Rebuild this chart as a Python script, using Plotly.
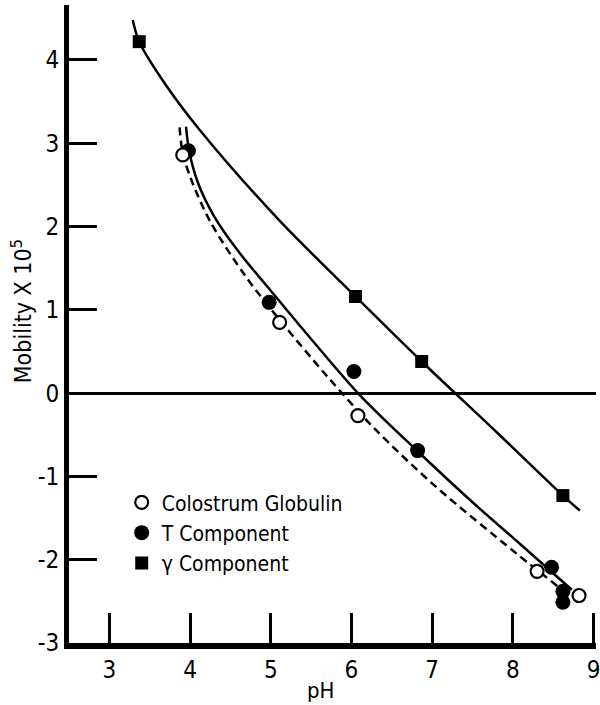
import plotly.graph_objects as go

# ---- data ----
ph_colostrum = [3.91, 5.11, 6.08, 8.30, 8.82]
mob_colostrum = [2.86, 0.85, -0.27, -2.14, -2.43]

ph_t = [3.98, 4.98, 6.03, 6.82, 8.48, 8.62, 8.62]
mob_t = [2.91, 1.09, 0.26, -0.69, -2.09, -2.38, -2.51]

ph_gamma = [3.37, 6.05, 6.87, 8.62]
mob_gamma = [4.22, 1.16, 0.38, -1.23]

# fitted curves (anchor points)
curve_gamma_x = [3.29, 3.37, 3.70, 4.12, 5.10, 6.05, 6.87, 7.80, 8.62, 8.83]
curve_gamma_y = [4.48, 4.22, 3.70, 3.16, 2.08, 1.16, 0.38, -0.47, -1.23, -1.41]

curve_t_x = [3.95, 3.99, 4.10, 4.30, 4.60, 5.00, 5.50, 6.10, 6.80, 7.50, 8.10, 8.73]
curve_t_y = [3.20, 2.90, 2.52, 2.12, 1.70, 1.23, 0.65, -0.02, -0.68, -1.31, -1.82, -2.36]

curve_c_x = [3.87, 3.91, 4.02, 4.25, 4.69, 5.11, 5.71, 6.29, 7.03, 8.05, 8.57]
curve_c_y = [3.19, 2.88, 2.55, 2.06, 1.40, 0.88, 0.19, -0.43, -1.11, -1.93, -2.33]

x_ticks = [3, 4, 5, 6, 7, 8, 9]
y_ticks = [-3, -2, -1, 0, 1, 2, 3, 4]
y_tick_text = ["-3", "-2", "-1", "0", "1", "2", "3", "4"]

legend_names = ["Colostrum Globulin", "T Component", "\u03b3 Component"]

FONT = "DejaVu Sans Condensed, Liberation Sans Narrow, sans-serif"

fig = go.Figure()

fig.add_trace(go.Scatter(x=curve_gamma_x, y=curve_gamma_y, mode="lines",
                         line=dict(color="black", width=2.5, shape="spline", smoothing=0.9),
                         showlegend=False, hoverinfo="skip"))
fig.add_trace(go.Scatter(x=curve_t_x, y=curve_t_y, mode="lines",
                         line=dict(color="black", width=2.5, shape="spline", smoothing=0.9),
                         showlegend=False, hoverinfo="skip"))
fig.add_trace(go.Scatter(x=curve_c_x, y=curve_c_y, mode="lines",
                         line=dict(color="black", width=2.5, dash="8px,5px", shape="spline", smoothing=0.9),
                         showlegend=False, hoverinfo="skip"))

fig.add_trace(go.Scatter(x=ph_t, y=mob_t, mode="markers", name=legend_names[1],
                         marker=dict(symbol="circle", size=15, color="black",
                                     line=dict(color="black", width=0))))
fig.add_trace(go.Scatter(x=ph_colostrum, y=mob_colostrum, mode="markers", name=legend_names[0],
                         marker=dict(symbol="circle", size=13, color="white",
                                     line=dict(color="black", width=2.2))))
fig.add_trace(go.Scatter(x=ph_gamma, y=mob_gamma, mode="markers", name=legend_names[2],
                         marker=dict(symbol="square", size=13, color="black",
                                     line=dict(color="black", width=0))))

fig.update_layout(
    width=600, height=705,
    margin=dict(l=69, r=0, t=5, b=62),
    paper_bgcolor="white", plot_bgcolor="white",
    font=dict(family=FONT, color="black", size=21),
    showlegend=True,
    legend=dict(x=0.10, y=0.252, xanchor="left", yanchor="top",
                bgcolor="rgba(0,0,0,0)", font=dict(family=FONT, size=21, color="black"),
                traceorder="normal", itemsizing="trace",
                tracegroupgap=0),
    xaxis=dict(range=[2.5, 9.03], tickvals=x_ticks, ticks="inside", ticklen=30, tickwidth=3,
               tickcolor="black", showline=True, linewidth=6, linecolor="black",
               showgrid=False, zeroline=False, tickfont=dict(family=FONT, size=24),
               ticklabeloverflow="allow", fixedrange=True),
    yaxis=dict(range=[-3, 4.66], tickvals=y_ticks, ticktext=y_tick_text, ticks="inside",
               ticklen=28, tickwidth=3, tickcolor="black", showline=True, linewidth=5,
               linecolor="black", showgrid=False, zeroline=True, zerolinecolor="black",
               zerolinewidth=2.5, tickfont=dict(family=FONT, size=24), fixedrange=True),
    annotations=[
        dict(text="Mobility X 10<sup>5</sup>", xref="paper", yref="paper", x=0, y=0.52,
             xanchor="center", yanchor="middle",
             xshift=-47, textangle=-90, showarrow=False, font=dict(family=FONT, size=23)),
        dict(text="pH", xref="paper", yref="paper", x=0.478, y=0, yshift=-47,
             xanchor="center", yanchor="middle",
             showarrow=False, font=dict(family=FONT, size=22)),
    ],
)

# legend order: Colostrum, T, gamma
fig.data[4].legendrank = 1
fig.data[3].legendrank = 2
fig.data[5].legendrank = 3

fig.write_html("out.html")
